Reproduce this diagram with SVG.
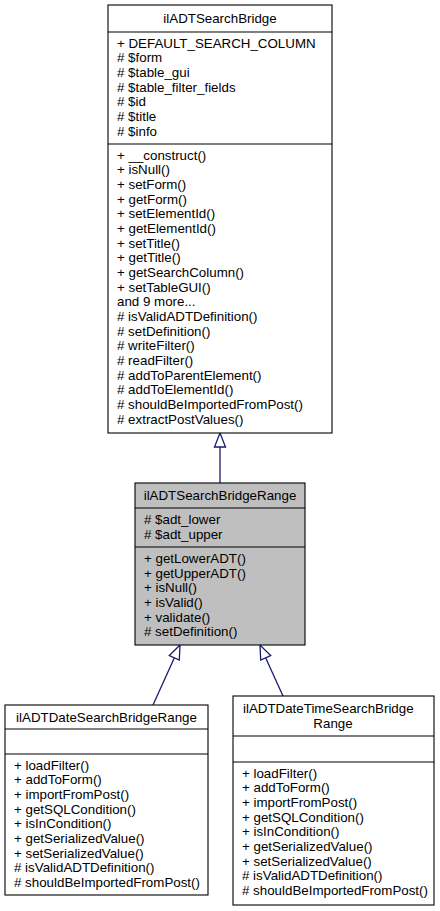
<svg xmlns="http://www.w3.org/2000/svg" width="440" height="911" viewBox="0 0 440 911">
<style>
text{font-family:"Liberation Sans",Arial,Helvetica,sans-serif;font-size:13.33px;fill:#000}
.c{text-anchor:middle}
.box{fill:#fff;stroke:#000;stroke-width:1.1}
.cur{fill:#bfbfbf;stroke:#000;stroke-width:1.1}
.sep{stroke:#000;stroke-width:1.1}
.edge{stroke:#191970;stroke-width:1.3;fill:none}
.head{fill:#fff;stroke:#191970;stroke-width:1.3}
</style>
<rect width="440" height="911" fill="#fff"/>
<g id="connectors">
<line class="edge" x1="220" y1="483" x2="220" y2="446"/>
<polygon class="head" points="220,433 214.5,447 225.5,447"/>
<line class="edge" x1="153" y1="705" x2="174.5" y2="657.5"/>
<polygon class="head" points="180,645 169.3,655.5 179.3,660"/>
<line class="edge" x1="283" y1="696" x2="265.5" y2="657.5"/>
<polygon class="head" points="260,645 260.7,660 270.7,655.5"/>
</g>
<g id="ilADTSearchBridge">
<rect class="box" x="108" y="5" width="224" height="428"/>
<line class="sep" x1="108" y1="32" x2="332" y2="32"/>
<line class="sep" x1="108" y1="144" x2="332" y2="144"/>
<text class="c" x="220" y="23">ilADTSearchBridge</text>
<text x="117" y="47.5">+ DEFAULT_SEARCH_COLUMN</text>
<text x="117" y="62.2"># $form</text>
<text x="117" y="76.8"># $table_gui</text>
<text x="117" y="91.5"># $table_filter_fields</text>
<text x="117" y="106.2"># $id</text>
<text x="117" y="120.8"># $title</text>
<text x="117" y="135.5"># $info</text>
<text x="117" y="159.5">+ __construct()</text>
<text x="117" y="174.2">+ isNull()</text>
<text x="117" y="188.8">+ setForm()</text>
<text x="117" y="203.5">+ getForm()</text>
<text x="117" y="218.2">+ setElementId()</text>
<text x="117" y="232.8">+ getElementId()</text>
<text x="117" y="247.5">+ setTitle()</text>
<text x="117" y="262.2">+ getTitle()</text>
<text x="117" y="276.8">+ getSearchColumn()</text>
<text x="117" y="291.5">+ setTableGUI()</text>
<text x="117" y="306.2">and 9 more...</text>
<text x="117" y="320.8"># isValidADTDefinition()</text>
<text x="117" y="335.5"># setDefinition()</text>
<text x="117" y="350.2"># writeFilter()</text>
<text x="117" y="364.8"># readFilter()</text>
<text x="117" y="379.5"># addToParentElement()</text>
<text x="117" y="394.2"># addToElementId()</text>
<text x="117" y="408.8"># shouldBeImportedFromPost()</text>
<text x="117" y="423.5"># extractPostValues()</text>
</g>
<g id="ilADTSearchBridgeRange">
<rect class="cur" x="135" y="483" width="170" height="162"/>
<line class="sep" x1="135" y1="508" x2="305" y2="508"/>
<line class="sep" x1="135" y1="547" x2="305" y2="547"/>
<text class="c" x="220" y="499.5">ilADTSearchBridgeRange</text>
<text x="144" y="524"># $adt_lower</text>
<text x="144" y="538.7"># $adt_upper</text>
<text x="144" y="563">+ getLowerADT()</text>
<text x="144" y="577.7">+ getUpperADT()</text>
<text x="144" y="592.3">+ isNull()</text>
<text x="144" y="607">+ isValid()</text>
<text x="144" y="621.7">+ validate()</text>
<text x="144" y="636.3"># setDefinition()</text>
</g>
<g id="ilADTDateSearchBridgeRange">
<rect class="box" x="5" y="705" width="203" height="190"/>
<line class="sep" x1="5" y1="729" x2="208" y2="729"/>
<line class="sep" x1="5" y1="754" x2="208" y2="754"/>
<text class="c" x="106.5" y="721.5">ilADTDateSearchBridgeRange</text>
<text x="14" y="769.5">+ loadFilter()</text>
<text x="14" y="784.2">+ addToForm()</text>
<text x="14" y="798.8">+ importFromPost()</text>
<text x="14" y="813.5">+ getSQLCondition()</text>
<text x="14" y="828.2">+ isInCondition()</text>
<text x="14" y="842.8">+ getSerializedValue()</text>
<text x="14" y="857.5">+ setSerializedValue()</text>
<text x="14" y="872.2"># isValidADTDefinition()</text>
<text x="14" y="886.8"># shouldBeImportedFromPost()</text>
</g>
<g id="ilADTDateTimeSearchBridgeRange">
<rect class="box" x="233" y="696" width="201" height="209"/>
<line class="sep" x1="233" y1="736" x2="434" y2="736"/>
<line class="sep" x1="233" y1="762" x2="434" y2="762"/>
<text x="243" y="713">ilADTDateTimeSearchBridge</text>
<text class="c" x="333" y="727.5">Range</text>
<text x="242" y="777.5">+ loadFilter()</text>
<text x="242" y="792.2">+ addToForm()</text>
<text x="242" y="806.8">+ importFromPost()</text>
<text x="242" y="821.5">+ getSQLCondition()</text>
<text x="242" y="836.2">+ isInCondition()</text>
<text x="242" y="850.8">+ getSerializedValue()</text>
<text x="242" y="865.5">+ setSerializedValue()</text>
<text x="242" y="880.2"># isValidADTDefinition()</text>
<text x="242" y="894.8"># shouldBeImportedFromPost()</text>
</g>
</svg>
